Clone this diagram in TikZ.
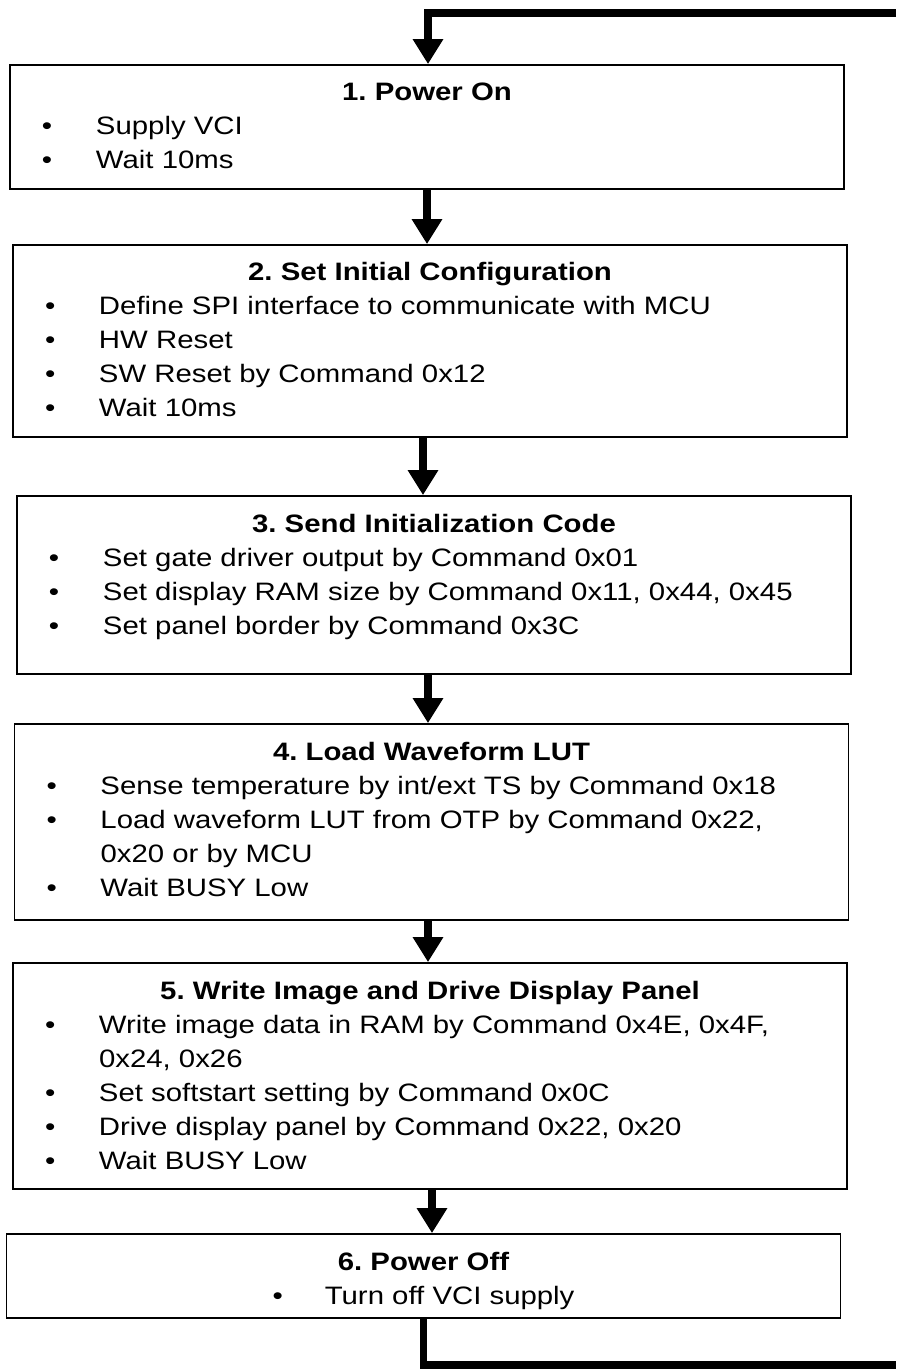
\documentclass[tikz,border=0pt]{standalone}
\usepackage{fontspec}
\setmainfont{Liberation Sans}[FakeStretch=1.165]
\usetikzlibrary{arrows.meta}
\frenchspacing
\newcommand{\itm}[1]{\makebox[43pt][l]{\hspace{16pt}\textbullet}#1}
\newcommand{\steptext}[3]{\parbox[t][#1][t]{417pt}{\centering\rule{0pt}{18pt}\textbf{#2}\par\raggedright #3}}
\begin{document}
\begin{tikzpicture}[
        x=0.5pt, y=-0.5pt,
        >={Triangle[length=12.5pt,width=14.5pt]},
        stepbox/.style={draw, line width=0.9pt, inner sep=0pt, font=\fontsize{12.6}{17}\selectfont},
        flow/.style={->, line width=3.6pt},
        ]
        \useasboundingbox (0,0) rectangle (896,1369);
        \node[stepbox] (b1) at (427,127) {\steptext{62pt}{1. Power On}{%
            \itm{Supply VCI}\\\itm{Wait 10ms}}};
        \node[stepbox] (b2) at (430,341) {\steptext{96pt}{2. Set Initial Configuration}{%
            \itm{Define SPI interface to communicate with MCU}\\\itm{HW Reset}\\
            \itm{SW Reset by Command 0x12}\\\itm{Wait 10ms}}};
        \node[stepbox] (b3) at (434,585) {\steptext{89pt}{3. Send Initialization Code}{%
            \itm{Set gate driver output by Command 0x01}\\
            \itm{Set display RAM size by Command 0x11, 0x44, 0x45}\\
            \itm{Set panel border by Command 0x3C}}};
        \node[stepbox] (b4) at (431.5,822) {\steptext{98pt}{4. Load Waveform LUT}{%
            \itm{Sense temperature by int/ext TS by Command 0x18}\\
            \itm{Load waveform LUT from OTP by Command 0x22,}\\\hspace*{43pt}0x20 or by MCU\\
            \itm{Wait BUSY Low}}};
        \node[stepbox] (b5) at (430,1076) {\steptext{113pt}{5. Write Image and Drive Display Panel}{%
            \itm{Write image data in RAM by Command 0x4E, 0x4F,}\\\hspace*{43pt}0x24, 0x26\\
            \itm{Set softstart setting by Command 0x0C}\\
            \itm{Drive display panel by Command 0x22, 0x20}\\
            \itm{Wait BUSY Low}}};
        \node[stepbox] (b6) at (423.5,1276) {\steptext{42pt}{6. Power Off}{%
            \centering\textbullet\hspace{21pt}Turn off VCI supply}};
        \coordinate (loopin) at (896,13);
        \coordinate (loopout) at (896,1365);
        \draw[flow] (loopin) -| ([xshift=0.5pt]b1.north);
        \draw[flow] (b1.south) -- (b1.south |- b2.north);
        \draw[flow] ([xshift=-3.5pt]b2.south) -- ([xshift=-3.5pt]b2.south |- b3.north);
        \draw[flow] ([xshift=-3pt]b3.south) -- ([xshift=-3pt]b3.south |- b4.north);
        \draw[flow] ([xshift=-1.75pt]b4.south) -- ([xshift=-1.75pt]b4.south |- b5.north);
        \draw[flow] ([xshift=1pt]b5.south) -- ([xshift=1pt]b5.south |- b6.north);
        \draw[line width=3.6pt] (b6.south) |- (loopout);
\end{tikzpicture}
\end{document}
